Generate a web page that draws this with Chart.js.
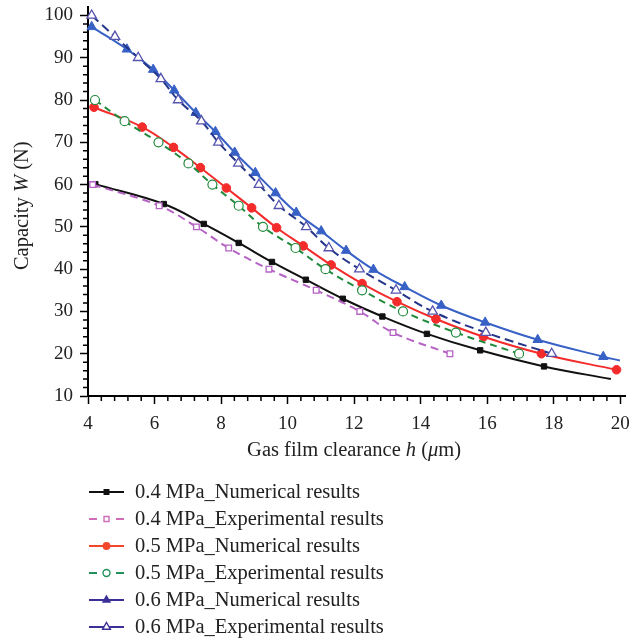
<!DOCTYPE html>
<html>
<head>
<meta charset="utf-8">
<script src="https://cdn.jsdelivr.net/npm/chart.js@4.4.1/dist/chart.umd.min.js"></script>
<style>
  html, body { margin: 0; padding: 0; background: #fff; }
  #wrap { width: 632px; height: 642px; }
</style>
</head>
<body>
<div id="wrap"><canvas id="c" width="632" height="642"></canvas></div>
<script>
// Gas film clearance h (µm) and load capacity W (N)
const h04Num = [4.22, 6.28, 7.48, 8.53, 9.53, 10.55, 11.66, 12.85, 14.19, 15.79, 17.71, 19.72];
const w04Num = [60.1, 55.4, 50.7, 46.2, 41.7, 37.5, 33.0, 28.8, 24.7, 20.8, 17.0, 14.0];
const h04Exp = [4.14, 6.14, 7.26, 8.23, 9.44, 10.86, 12.17, 13.17, 14.88];
const w04Exp = [60, 55, 50, 45, 40, 35, 30, 25, 20];

const h05Num = [4.18, 5.63, 6.57, 7.38, 8.16, 8.92, 9.67, 10.47, 11.31, 12.24, 13.29, 14.46, 15.89, 17.63, 19.89];
const w05Num = [78.3, 73.6, 68.8, 64.0, 59.2, 54.5, 49.8, 45.5, 41.0, 36.6, 32.3, 28.2, 24.0, 20.0, 16.2];
const h05Exp = [4.21, 5.10, 6.12, 7.02, 7.74, 8.53, 9.26, 10.24, 11.14, 12.24, 13.47, 15.06, 16.96];
const w05Exp = [80, 75, 70, 65, 60, 55, 50, 45, 40, 35, 30, 25, 20];

const h06Num = [4.11, 5.17, 5.96, 6.59, 7.24, 7.83, 8.41, 9.03, 9.64, 10.26, 11.01, 11.76, 12.58, 13.52, 14.62, 15.94, 17.52, 19.49, 19.99];
const w06Num = [97.3, 92.0, 87.2, 82.3, 77.0, 72.5, 67.6, 62.8, 58.0, 53.4, 49.0, 44.4, 39.9, 35.8, 31.4, 27.4, 23.3, 19.3, 18.4];
const h06Exp = [4.11, 4.81, 5.51, 6.19, 6.71, 7.41, 7.92, 8.52, 9.14, 9.74, 10.56, 11.24, 12.16, 13.26, 14.36, 15.96, 17.94];
const w06Exp = [100, 95, 90, 85, 80, 75, 70, 65, 60, 55, 50, 45, 40, 35, 30, 25, 20];

const seriesNames = [
  '0.4 MPa_Numerical results',
  '0.4 MPa_Experimental results',
  '0.5 MPa_Numerical results',
  '0.5 MPa_Experimental results',
  '0.6 MPa_Numerical results',
  '0.6 MPa_Experimental results'
];

// axis extents and tick spacing
const xAxis = { min: 4, max: 20.15, first: 4, last: 20, major: 2, minor: 0.4 };
const yAxis = { min: 10, max: 102, first: 10, last: 100, major: 10, minor: 2 };

const SERIF = "'Liberation Serif', 'DejaVu Serif', serif";

function pts(xs, ys) { return xs.map((x, i) => ({ x: x, y: ys[i] })); }
// markers on every point except a trailing curve end
function radii(n, r, lastHidden) { return Array.from({ length: n }, (_, i) => (lastHidden && i === n - 1) ? 0 : r); }
function majorValues(a) {
  const out = [];
  for (let v = a.first; v <= a.last + 1e-9; v += a.major) out.push({ value: Math.round(v * 100) / 100 });
  return out;
}

const datasets = [
  {
    label: seriesNames[1], data: pts(h04Exp, w04Exp),
    borderColor: '#b563c4', backgroundColor: '#ffffff', borderWidth: 2, borderDash: [8, 5],
    pointStyle: 'rect', pointRadius: 4, pointBorderWidth: 1.3,
    legendColor: '#d16cb6', legendRadius: 3.5, legendDashed: true
  },
  {
    label: seriesNames[3], data: pts(h05Exp, w05Exp),
    borderColor: '#218a3c', backgroundColor: '#ffffff', borderWidth: 2, borderDash: [7, 5],
    pointStyle: 'circle', pointRadius: 4.5, pointBorderWidth: 1.2,
    legendColor: '#23905a', legendRadius: 3.5, legendDashed: true
  },
  {
    label: seriesNames[5], data: pts(h06Exp, w06Exp),
    borderColor: '#24358a', backgroundColor: '#ffffff', borderWidth: 2, borderDash: [9, 5],
    pointStyle: 'triangle', pointRadius: 5.5, pointBorderWidth: 1.3, pointBorderColor: '#5553ad',
    legendColor: '#3b2f98', legendRadius: 4.5, legendDashed: false
  },
  {
    label: seriesNames[0], data: pts(h04Num, w04Num),
    borderColor: '#111111', backgroundColor: '#111111', borderWidth: 2,
    pointStyle: 'rect', pointRadius: radii(h04Num.length, 3.8, true), pointBorderWidth: 1,
    legendColor: '#111111', legendRadius: 3.2, legendDashed: false
  },
  {
    label: seriesNames[2], data: pts(h05Num, w05Num),
    borderColor: '#f42b2b', backgroundColor: '#f42b2b', borderWidth: 2,
    pointStyle: 'circle', pointRadius: 4.3, pointBorderWidth: 1,
    legendColor: '#f2472a', legendRadius: 3.2, legendDashed: false
  },
  {
    label: seriesNames[4], data: pts(h06Num, w06Num),
    borderColor: '#3861c6', backgroundColor: '#3861c6', borderWidth: 2,
    pointStyle: 'triangle', pointRadius: radii(h06Num.length, 5.5, true), pointBorderWidth: 1,
    legendColor: '#3b2f98', legendRadius: 4, legendDashed: false
  }
];
datasets.forEach(d => { d.tension = 0.4; d.fill = false; d.clip = false; });

// short minor tick marks on both axes
const minorTicks = {
  id: 'minorTicks',
  afterDraw(chart) {
    const { ctx, scales: { x, y } } = chart;
    ctx.save();
    ctx.strokeStyle = '#000';
    ctx.lineWidth = 1.5;
    ctx.beginPath();
    const nx = Math.round((xAxis.last - xAxis.first) / xAxis.minor);
    const perX = Math.round(xAxis.major / xAxis.minor);
    for (let i = 0; i <= nx; i++) {
      if (i % perX === 0) continue;
      const px = x.getPixelForValue(xAxis.first + i * xAxis.minor);
      ctx.moveTo(px, y.bottom);
      ctx.lineTo(px, y.bottom + 5);
    }
    const ny = Math.round((yAxis.last - yAxis.first) / yAxis.minor);
    const perY = Math.round(yAxis.major / yAxis.minor);
    for (let i = 0; i <= ny; i++) {
      if (i % perY === 0) continue;
      const py = y.getPixelForValue(yAxis.first + i * yAxis.minor);
      ctx.moveTo(x.left, py);
      ctx.lineTo(x.left - 5, py);
    }
    ctx.stroke();
    ctx.restore();
  }
};

// axis titles with italic symbols
function drawRich(ctx, parts, size) {
  let w = 0;
  parts.forEach(p => { ctx.font = (p[1] ? 'italic ' : '') + size + 'px ' + SERIF; w += ctx.measureText(p[0]).width; });
  let cx = -w / 2;
  parts.forEach(p => {
    ctx.font = (p[1] ? 'italic ' : '') + size + 'px ' + SERIF;
    ctx.fillText(p[0], cx, 0);
    cx += ctx.measureText(p[0]).width;
  });
}
const axisTitles = {
  id: 'axisTitles',
  afterDraw(chart) {
    const { ctx, scales: { x, y } } = chart;
    ctx.save();
    ctx.fillStyle = '#222';
    ctx.textBaseline = 'middle';
    ctx.textAlign = 'left';
    ctx.translate((x.getPixelForValue(xAxis.first) + x.getPixelForValue(xAxis.last)) / 2, y.bottom + 55);
    drawRich(ctx, [['Gas film clearance ', false], ['h', true], [' (', false], ['\u03bc', true], ['m)', false]], 20.5);
    ctx.restore();
    ctx.save();
    ctx.fillStyle = '#222';
    ctx.textBaseline = 'middle';
    ctx.textAlign = 'left';
    ctx.translate(23, (y.getPixelForValue(yAxis.first) + y.getPixelForValue(yAxis.last)) / 2);
    ctx.rotate(-Math.PI / 2);
    drawRich(ctx, [['Capacity ', false], ['W', true], [' (N)', false]], 20.5);
    ctx.restore();
  }
};

// single-column legend under the plot
const columnLegend = {
  id: 'columnLegend',
  afterDraw(chart) {
    const { ctx } = chart;
    const order = [3, 0, 4, 1, 5, 2];
    const x0 = 89, x1 = 124, tx = 135, top = 492, step = 27;
    order.forEach((di, row) => {
      const ds = chart.data.datasets[di];
      const yy = top + row * step;
      const col = ds.legendColor;
      ctx.save();
      ctx.strokeStyle = col;
      ctx.lineWidth = 2;
      ctx.beginPath();
      if (ds.legendDashed) {
        ctx.moveTo(x0, yy); ctx.lineTo(x0 + 8, yy);
        ctx.moveTo(x1 - 8, yy); ctx.lineTo(x1, yy);
      } else {
        ctx.moveTo(x0, yy); ctx.lineTo(x1, yy);
      }
      ctx.stroke();
      const open = ds.backgroundColor === '#ffffff';
      ctx.fillStyle = open ? '#ffffff' : col;
      ctx.strokeStyle = col;
      ctx.lineWidth = 1.4;
      Chart.helpers.drawPoint(ctx, {
        pointStyle: ds.pointStyle, rotation: 0, radius: ds.legendRadius, borderWidth: 1.4
      }, (x0 + x1) / 2, yy);
      ctx.fillStyle = '#222';
      ctx.font = '20.5px ' + SERIF;
      ctx.textBaseline = 'middle';
      ctx.textAlign = 'left';
      ctx.fillText(ds.label, tx, yy + 1);
      ctx.restore();
    });
  }
};

new Chart(document.getElementById('c'), {
  type: 'line',
  data: { datasets: datasets },
  options: {
    responsive: false,
    animation: false,
    layout: { padding: { top: 7, right: 1, bottom: 176, left: 0 } },
    plugins: { legend: { display: false }, tooltip: { enabled: false } },
    scales: {
      x: {
        type: 'linear', min: xAxis.min, max: xAxis.max,
        afterBuildTicks(s) { s.ticks = majorValues(xAxis); },
        ticks: { color: '#222', font: { family: SERIF, size: 19 }, padding: 9, maxRotation: 0, autoSkip: false },
        grid: { drawOnChartArea: false, drawTicks: true, tickLength: 8, tickColor: '#000', tickWidth: 1.5 },
        border: { display: true, color: '#000', width: 2 },
        afterFit(s) { s.height = 70; s.paddingLeft = 0; s.paddingRight = 0; }
      },
      y: {
        type: 'linear', min: yAxis.min, max: yAxis.max,
        afterBuildTicks(s) { s.ticks = majorValues(yAxis); },
        ticks: { color: '#222', font: { family: SERIF, size: 19 }, padding: 7, autoSkip: false },
        grid: { drawOnChartArea: false, drawTicks: true, tickLength: 8, tickColor: '#000', tickWidth: 1.5 },
        border: { display: true, color: '#000', width: 2 },
        afterFit(s) { s.width = 88; s.paddingTop = 0; s.paddingBottom = 0; }
      }
    }
  },
  plugins: [minorTicks, axisTitles, columnLegend]
});
</script>
</body>
</html>
